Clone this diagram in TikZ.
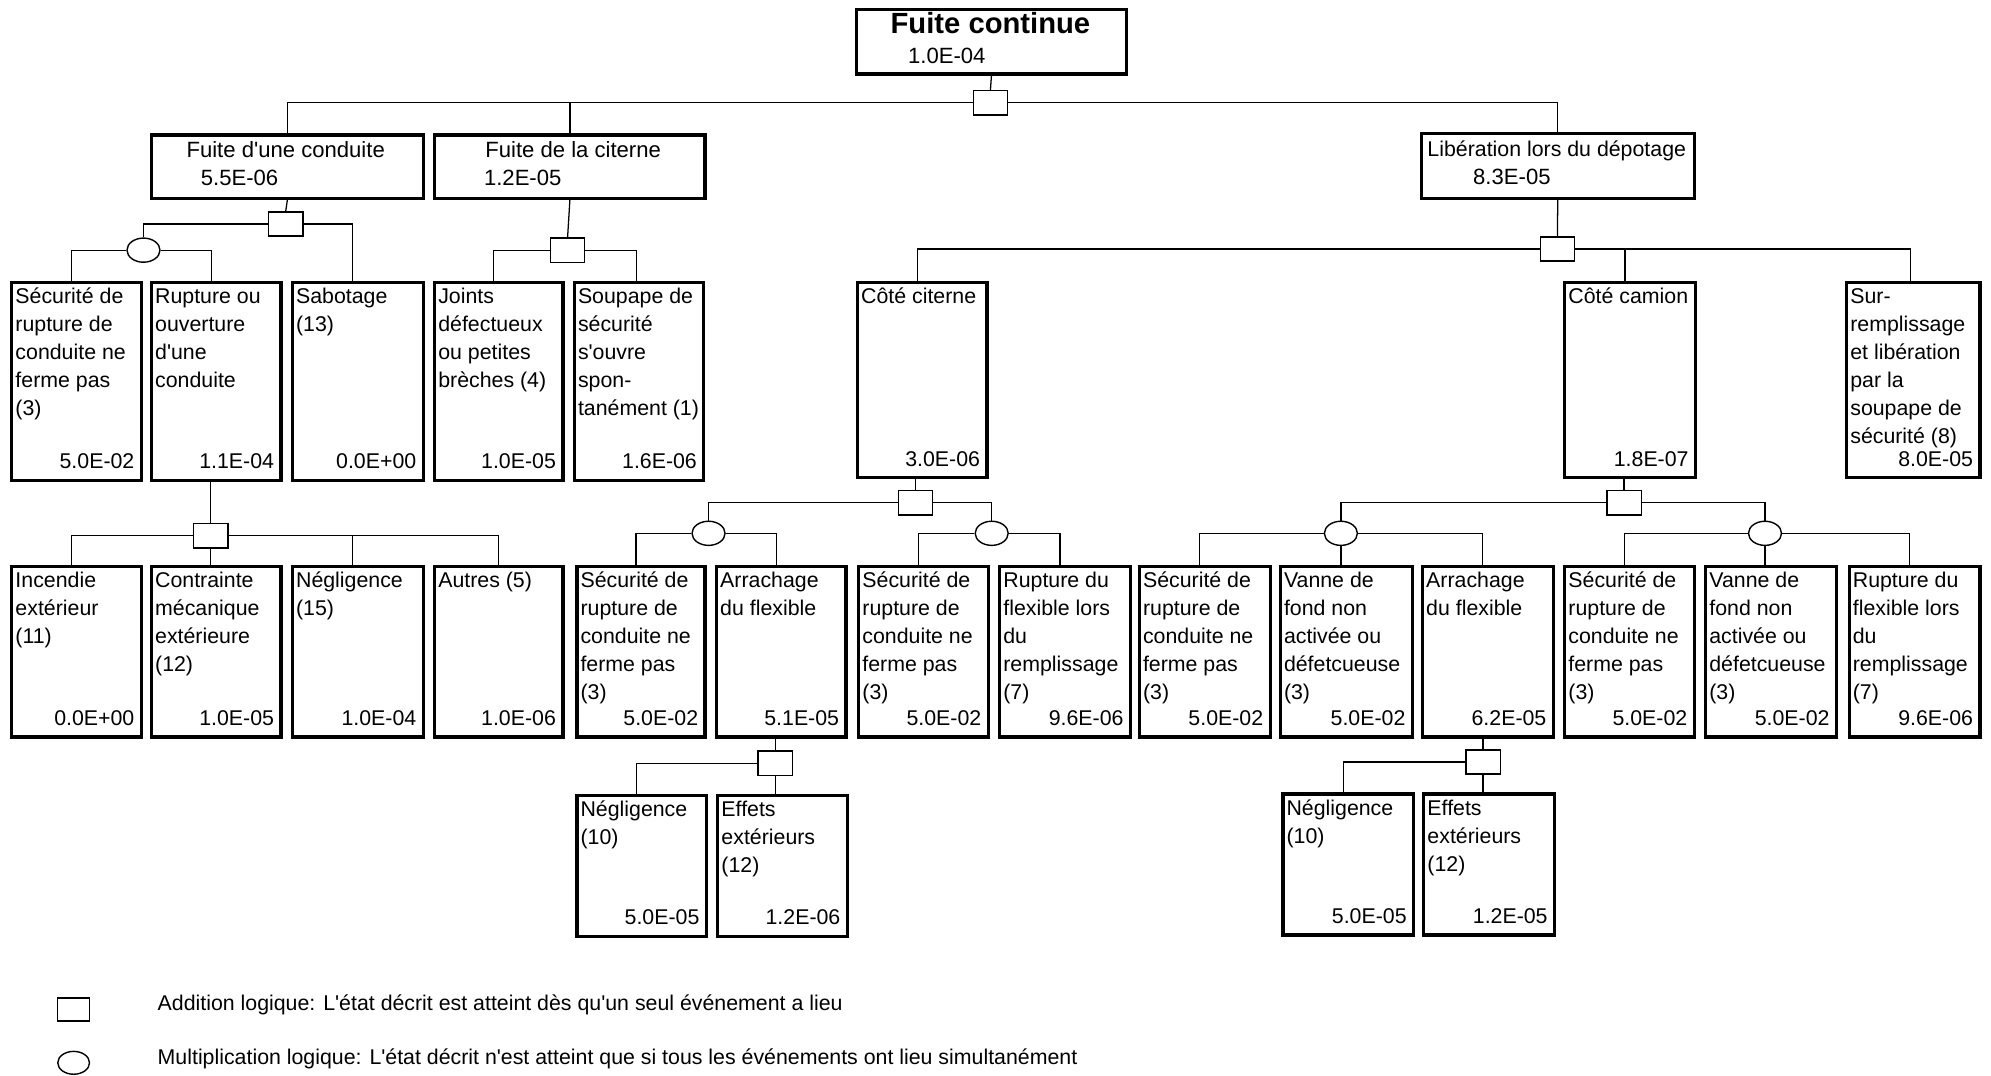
\documentclass[tikz,border=0pt]{standalone}
\usepackage{fontspec}
\setmainfont{Liberation Sans}
\usetikzlibrary{shapes.geometric}

\tikzset{
  evbox/.style={draw=black, line width=2.6pt, rectangle, inner sep=0pt, fill=white},
  lbl/.style={inner sep=0pt, font=\fontsize{16.8}{22}\selectfont},
  hlbl/.style={inner sep=0pt, font=\fontsize{17.4}{22}\selectfont},
  titlelbl/.style={inner sep=0pt, font=\fontsize{23}{26}\selectfont\bfseries},
  orgate/.style={draw, line width=1.1pt, rectangle, minimum width=27pt, minimum height=19pt, inner sep=0pt, fill=white},
  andgate/.style={draw, line width=1.1pt, ellipse, minimum width=26pt, minimum height=19pt, inner sep=0pt, fill=white},
  conn/.style={draw, line width=1pt},
}

% straight apostrophe
\newcommand\ap{\textquotesingle}

% event box: name, left, top, right, bottom, description lines, probability
\newcommand\evt[7]{%
  \node[evbox, minimum width={#4-#2}, minimum height={#5-#3}, anchor=north west] (#1) at (#2,#3) {};
  \node[lbl, anchor=base west] (#1-t) at ({#2+4},{#3+18}) {\parbox[t]{130pt}{\raggedright #6}};
  \node[lbl, anchor=base east] (#1-v) at ({#4-4},{#5-8}) {#7};
}

\begin{document}
\begin{tikzpicture}[x=1pt, y=-1pt]
\useasboundingbox (0,0) rectangle (1568,847);

% ---- top event ----
\node[evbox, minimum width=213, minimum height=51, anchor=north west] (T) at (673,6) {};
\node[titlelbl, anchor=base] (T-t) at (780,26) {Fuite continue};
\node[hlbl, anchor=base west] (T-v) at (715,50) {1.0E-04};

% ---- second level ----
\node[evbox, minimum width=214, minimum height=50, anchor=north west] (A) at (118,105) {};
\node[hlbl, anchor=base] (A-t) at (225,124) {Fuite d\ap une conduite};
\node[hlbl, anchor=base west] (A-v) at (158,146) {5.5E-06};

\node[evbox, minimum width=213, minimum height=50, anchor=north west] (B) at (341,105) {};
\node[hlbl, anchor=base west] (B-t) at (382,124) {Fuite de la citerne};
\node[hlbl, anchor=base west] (B-v) at (381,146) {1.2E-05};

\node[evbox, minimum width=215, minimum height=51, anchor=north west] (C) at (1118,104) {};
\node[lbl, anchor=base west] (C-t) at (1124,123) {Libération lors du dépotage};
\node[hlbl, anchor=base west] (C-v) at (1160,145) {8.3E-05};

% ---- third level ----
\evt{a1}{8}{221}{110}{377}{Sécurité de\\rupture de\\conduite ne\\ferme pas\\(3)}{5.0E-02}
\evt{a2}{118}{221}{220}{377}{Rupture ou\\ouverture\\d\ap une\\conduite}{1.1E-04}
\evt{a3}{229}{221}{332}{377}{Sabotage\\(13)}{0.0E+00}
\evt{b1}{341}{221}{442}{377}{Joints\\défectueux\\ou petites\\brèches (4)}{1.0E-05}
\evt{b2}{451}{221}{553}{377}{Soupape de\\sécurité\\s\ap ouvre\\spon-\\tanément (1)}{1.6E-06}
\evt{c1}{674}{221}{776}{375}{Côté citerne}{3.0E-06}
\evt{c2}{1231}{221}{1334}{375}{Côté camion}{1.8E-07}
\evt{c3}{1453}{221}{1558}{375}{Sur-\\remplissage\\et libération\\par la\\soupape de\\sécurité (8)}{8.0E-05}

% ---- fourth level ----
\evt{r1}{8}{445}{110}{579}{Incendie\\extérieur\\(11)}{0.0E+00}
\evt{r2}{118}{445}{220}{579}{Contrainte\\mécanique\\extérieure\\(12)}{1.0E-05}
\evt{r3}{229}{445}{332}{579}{Négligence\\(15)}{1.0E-04}
\evt{r4}{341}{445}{442}{579}{Autres (5)}{1.0E-06}
\evt{d1}{453}{445}{554}{579}{Sécurité de\\rupture de\\conduite ne\\ferme pas\\(3)}{5.0E-02}
\evt{d2}{563}{445}{665}{579}{Arrachage\\du flexible}{5.1E-05}
\evt{d3}{675}{445}{777}{579}{Sécurité de\\rupture de\\conduite ne\\ferme pas\\(3)}{5.0E-02}
\evt{d4}{786}{445}{889}{579}{Rupture du\\flexible lors\\du\\remplissage\\(7)}{9.6E-06}
\evt{e1}{896}{445}{999}{579}{Sécurité de\\rupture de\\conduite ne\\ferme pas\\(3)}{5.0E-02}
\evt{e2}{1007}{445}{1111}{579}{Vanne de\\fond non\\activée ou\\défetcueuse\\(3)}{5.0E-02}
\evt{e3}{1119}{445}{1222}{579}{Arrachage\\du flexible}{6.2E-05}
\evt{e4}{1231}{445}{1333}{579}{Sécurité de\\rupture de\\conduite ne\\ferme pas\\(3)}{5.0E-02}
\evt{e5}{1342}{445}{1445}{579}{Vanne de\\fond non\\activée ou\\défetcueuse\\(3)}{5.0E-02}
\evt{e6}{1455}{445}{1558}{579}{Rupture du\\flexible lors\\du\\remplissage\\(7)}{9.6E-06}

% ---- fifth level ----
\evt{f1}{453}{625}{555}{736}{Négligence\\(10)}{5.0E-05}
\evt{f2}{564}{625}{666}{736}{Effets\\extérieurs\\(12)}{1.2E-06}
\evt{h1}{1009}{624}{1112}{735}{Négligence\\(10)}{5.0E-05}
\evt{h2}{1120}{624}{1223}{735}{Effets\\extérieurs\\(12)}{1.2E-05}

% ---- gates ----
\node[orgate] (g0) at (780,81) {};
\node[orgate] (gA) at (225,176.5) {};
\node[andgate] (oA) at (113,197) {};
\node[orgate] (gB) at (447,197) {};
\node[orgate] (gC) at (1226.5,196) {};
\node[orgate] (gR) at (166,422) {};
\node[orgate] (gCC) at (721,396) {};
\node[andgate] (o1) at (558,420) {};
\node[andgate] (o2) at (781,420) {};
\node[orgate] (gAC) at (610.5,601) {};
\node[orgate] (gCK) at (1279,396) {};
\node[andgate] (o3) at (1056,420) {};
\node[andgate] (o4) at (1390,420) {};
\node[orgate] (gAK) at (1168,600) {};

% ---- connectors ----
\draw[conn] (T.south) -- (g0.north);
\draw[conn] (g0.west) -| (A.north);
\draw[conn] (g0.west) -| (B.north);
\draw[conn] (g0.east) -| (C.north);

\draw[conn] (A.south) -- (gA.north);
\draw[conn] (gA.west) -| (oA.north);
\draw[conn] (gA.east) -| ([xshift=-4pt]a3.north);
\draw[conn] (oA.west) -| ([xshift=-4pt]a1.north);
\draw[conn] (oA.east) -| ([xshift=-4pt]a2.north);

\draw[conn] (B.south) -- (gB.north);
\draw[conn] (gB.west) -| ([xshift=-4pt]b1.north);
\draw[conn] (gB.east) -| ([xshift=-2pt]b2.north);

\draw[conn] (C.south) -- (gC.north);
\draw[conn] (gC.west) -| ([xshift=-4pt]c1.north);
\draw[conn] (gC.east) -| ([xshift=-4pt]c2.north);
\draw[conn] (gC.east) -| ([xshift=-2pt]c3.north);

\draw[conn] (gR.north |- a2.south) -- (gR.north);
\draw[conn] (gR.west) -| ([xshift=-4pt]r1.north);
\draw[conn] (gR.south) -- (gR.south |- r2.north);
\draw[conn] (gR.east) -| ([xshift=-4pt]r3.north);
\draw[conn] (gR.east) -| (r4.north);

\draw[conn] (gCC.north |- c1.south) -- (gCC.north);
\draw[conn] (gCC.west) -| (o1.north);
\draw[conn] (gCC.east) -| (o2.north);
\draw[conn] (o1.west) -| ([xshift=-4pt]d1.north);
\draw[conn] (o1.east) -| ([xshift=-4pt]d2.north);
\draw[conn] (o2.west) -| ([xshift=-4pt]d3.north);
\draw[conn] (o2.east) -| ([xshift=-4pt]d4.north);

\draw[conn] (gAC.north |- d2.south) -- (gAC.north);
\draw[conn] (gAC.west) -| ([xshift=-4pt]f1.north);
\draw[conn] (gAC.south) -- (gAC.south |- f2.north);

\draw[conn] (gCK.north |- c2.south) -- (gCK.north);
\draw[conn] (gCK.west) -| (o3.north);
\draw[conn] (gCK.east) -| (o4.north);
\draw[conn] (o3.west) -| ([xshift=-4pt]e1.north);
\draw[conn] (o3.south) -- (o3.south |- e2.north);
\draw[conn] (o3.east) -| ([xshift=-4pt]e3.north);
\draw[conn] (o4.west) -| ([xshift=-4pt]e4.north);
\draw[conn] (o4.south) -- (o4.south |- e5.north);
\draw[conn] (o4.east) -| ([xshift=-4pt]e6.north);

\draw[conn] (gAK.north |- e3.south) -- (gAK.north);
\draw[conn] (gAK.west) -| ([xshift=-4pt]h1.north);
\draw[conn] (gAK.south) -- (gAK.south |- h2.north);

% ---- legend ----
\node[orgate, minimum width=25pt, minimum height=18pt] (lg1) at (58,795) {};
\node[lbl, anchor=base west] (lt1) at (124,796) {Addition logique: L\ap état décrit est atteint dès qu\ap un seul événement a lieu};
\node[andgate, minimum width=25pt, minimum height=18pt] (lg2) at (58,837) {};
\node[lbl, anchor=base west] (lt2) at (124,838) {Multiplication logique: L\ap état décrit n\ap est atteint que si tous les événements ont lieu simultanément};
\end{tikzpicture}
\end{document}
